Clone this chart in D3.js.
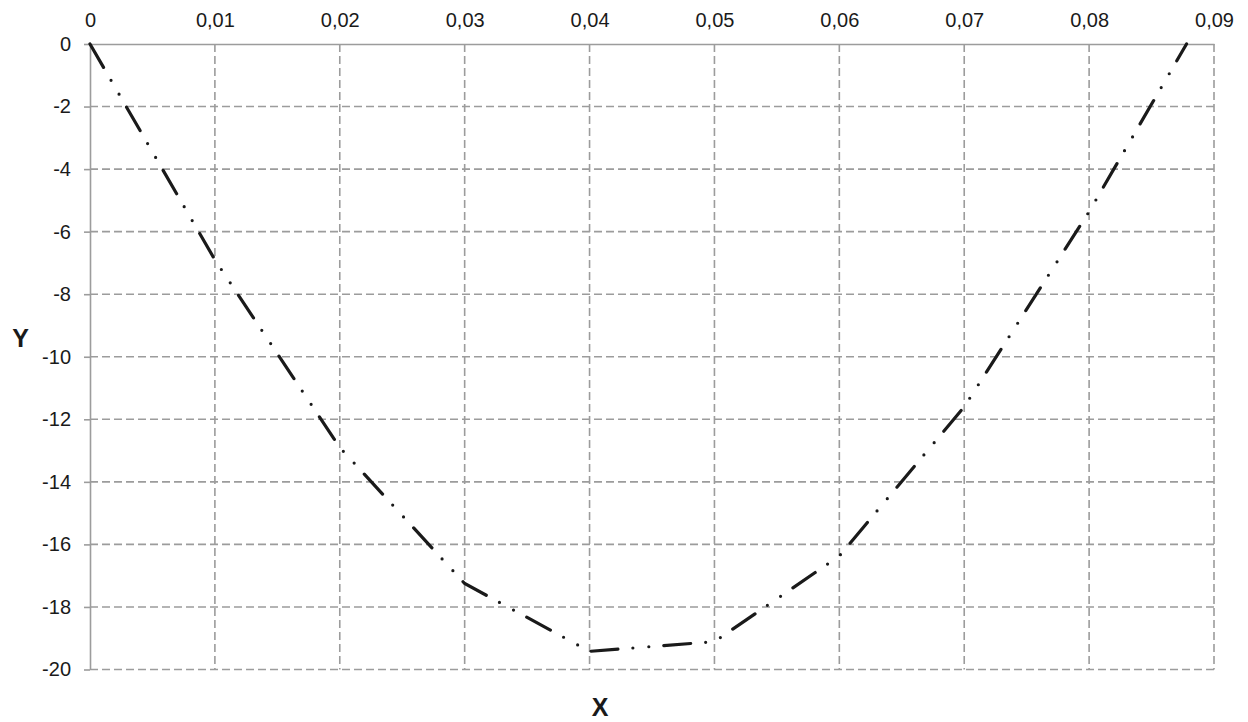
<!DOCTYPE html>
<html>
<head>
<meta charset="utf-8">
<script src="https://cdn.jsdelivr.net/npm/d3@7"></script>
<style>
  html, body { margin: 0; padding: 0; background: #fff; }
  svg { display: block; }
  text { font-family: "Liberation Sans", Arial, sans-serif; fill: #1a1a1a; }
</style>
</head>
<body>
<svg id="chart" width="1248" height="722"></svg>
<script>
// Curve samples (x, y)
const xValues = [0, 0.01, 0.02, 0.03, 0.04, 0.05, 0.06, 0.07, 0.08, 0.0878];
const yValues = [0, -6.9, -12.9, -17.25, -19.42, -19.11, -16.37, -11.6, -5.36, 0];

// Axis ticks
const xTicks = [0, 0.01, 0.02, 0.03, 0.04, 0.05, 0.06, 0.07, 0.08, 0.09];
const yTicks = [0, -2, -4, -6, -8, -10, -12, -14, -16, -18, -20];

const svg = d3.select("#chart");
const plotLeft = 90, plotRight = 1214, plotTop = 44, plotBottom = 669.5;

const x = d3.scaleLinear().domain([0, 0.09]).range([plotLeft, plotRight]);
const y = d3.scaleLinear().domain([0, -20]).range([plotTop, plotBottom]);

// Comma decimals, plain hyphen for negatives
const fmtX = v => d3.format(".2~f")(v).replace(".", ",");
const fmtY = v => String(v);
const gridColor = "#9c9c9c";

// Dashed grid
const grid = svg.append("g");
grid.selectAll("line.v").data(xTicks.slice(1)).join("line")
  .attr("class", "v")
  .attr("x1", d => x(d)).attr("x2", d => x(d))
  .attr("y1", plotTop).attr("y2", plotBottom)
  .attr("stroke", gridColor).attr("stroke-width", 1.6)
  .attr("stroke-dasharray", "8,4");
grid.selectAll("line.h").data(yTicks.slice(1)).join("line")
  .attr("class", "h")
  .attr("x1", plotLeft).attr("x2", plotRight)
  .attr("y1", d => y(d)).attr("y2", d => y(d))
  .attr("stroke", gridColor).attr("stroke-width", 1.6)
  .attr("stroke-dasharray", "8,4");

// Top (x) axis
const xAxis = svg.append("g")
  .attr("transform", `translate(0,${plotTop})`)
  .call(d3.axisTop(x).tickValues(xTicks).tickFormat(fmtX).tickSize(0).tickPadding(17));
xAxis.select(".domain").attr("stroke", gridColor).attr("stroke-width", 1.6);
xAxis.selectAll("text").attr("font-size", 20).attr("fill", "#1a1a1a")
  .style("font-family", "'Liberation Sans', Arial, sans-serif");

// Left (y) axis
const yAxis = svg.append("g")
  .attr("transform", `translate(${plotLeft},0)`)
  .call(d3.axisLeft(y).tickValues(yTicks).tickFormat(fmtY).tickSize(6).tickSizeOuter(0).tickPadding(13));
yAxis.select(".domain").attr("stroke", gridColor).attr("stroke-width", 1.6);
yAxis.selectAll(".tick line").attr("stroke", gridColor).attr("stroke-width", 1.6);
yAxis.selectAll("text").attr("font-size", 20).attr("fill", "#1a1a1a")
  .style("font-family", "'Liberation Sans', Arial, sans-serif");

// Axis titles
svg.append("text").attr("x", 20.5).attr("y", 347).attr("text-anchor", "middle")
  .attr("font-size", 25).attr("font-weight", "bold").text("Y");
svg.append("text").attr("x", 600).attr("y", 716).attr("text-anchor", "middle")
  .attr("font-size", 25).attr("font-weight", "bold").text("X");

// Dash-dot-dot curve
const pts = xValues.map((v, i) => [v, yValues[i]]);
svg.append("path")
  .datum(pts)
  .attr("d", d3.line().x(d => x(d[0])).y(d => y(d[1])))
  .attr("fill", "none")
  .attr("stroke", "#1a1a1a")
  .attr("stroke-width", 3.2)
  .attr("stroke-linecap", "round")
  .attr("stroke-dasharray", "27,15,0,16,0,15");
</script>
</body>
</html>
